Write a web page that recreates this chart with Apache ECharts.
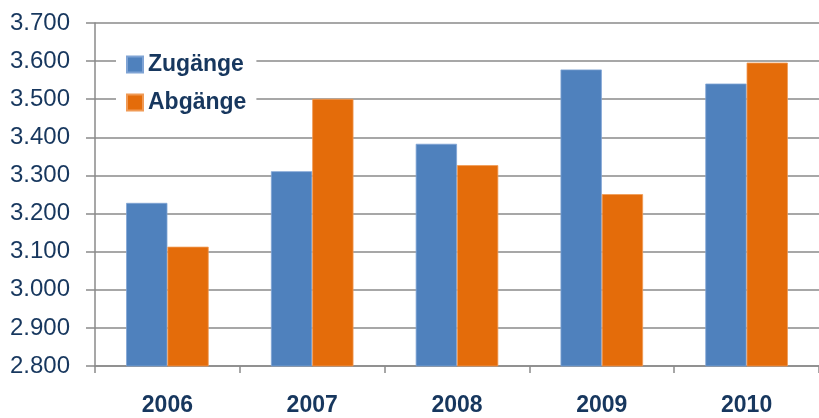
<!DOCTYPE html>
<html><head><meta charset="utf-8">
<script src="https://cdn.jsdelivr.net/npm/echarts@6/dist/echarts.min.js"></script>
<style>html,body{margin:0;padding:0;background:#fff}#c{width:819px;height:418px}</style>
</head><body><div id="c"></div>
<script>
const years = ['2006','2007','2008','2009','2010'];
const zugaenge = [3228, 3311, 3383, 3578, 3541];
const abgaenge = [3113, 3501, 3327, 3251, 3596];
const seriesNames = ['Zugänge', 'Abgänge'];
const navy = '#17375E';
const chart = echarts.init(document.getElementById('c'), null, {renderer:'canvas'});
const fmt = v => { const s = String(Math.round(v)); return s.length > 3 ? s.slice(0, s.length-3) + '.' + s.slice(-3) : s; };
chart.setOption({
  animation:false,
  backgroundColor:'#fff',
  grid:{left:95, right:-4, top:23, bottom:52, containLabel:false},
  legend:{
    orient:'vertical', left:116, top:47, itemWidth:16, itemHeight:16, itemGap:15,
    icon:'rect', backgroundColor:'#fff', padding:[6,10,6,10],
    textStyle:{color:navy, fontSize:23, fontWeight:'bold', fontFamily:'Liberation Sans', padding:[0,0,0,0]},
    data:seriesNames
  },
  xAxis:{
    type:'category', data:years,
    axisLine:{lineStyle:{color:'#8a8a8a', width:1.5}},
    axisTick:{show:true, length:7, lineStyle:{color:'#8a8a8a', width:1.5}},
    axisLabel:{color:navy, fontSize:23, fontWeight:'bold', fontFamily:'Liberation Sans', margin:28}
  },
  yAxis:{
    type:'value', min:2800, max:3700, interval:100,
    axisLine:{show:true, lineStyle:{color:'#8a8a8a', width:1.5}},
    axisTick:{show:true, length:9, lineStyle:{color:'#8a8a8a', width:1.5}},
    splitLine:{show:true, lineStyle:{color:'#8a8a8a', width:1.5}},
    axisLabel:{color:navy, fontSize:24, fontFamily:'Liberation Sans', margin:25, formatter:fmt}
  },
  series:[
    {name:seriesNames[0], type:'bar', data:zugaenge, barGap:'0%', barCategoryGap:'43%',
     itemStyle:{color:'#4F81BD', borderColor:'#7FA3D4', borderWidth:0.8}},
    {name:seriesNames[1], type:'bar', data:abgaenge, barGap:'0%', barCategoryGap:'43%',
     itemStyle:{color:'#E46C0A', borderColor:'#F09A55', borderWidth:0.8}}
  ]
});
</script></body></html>
